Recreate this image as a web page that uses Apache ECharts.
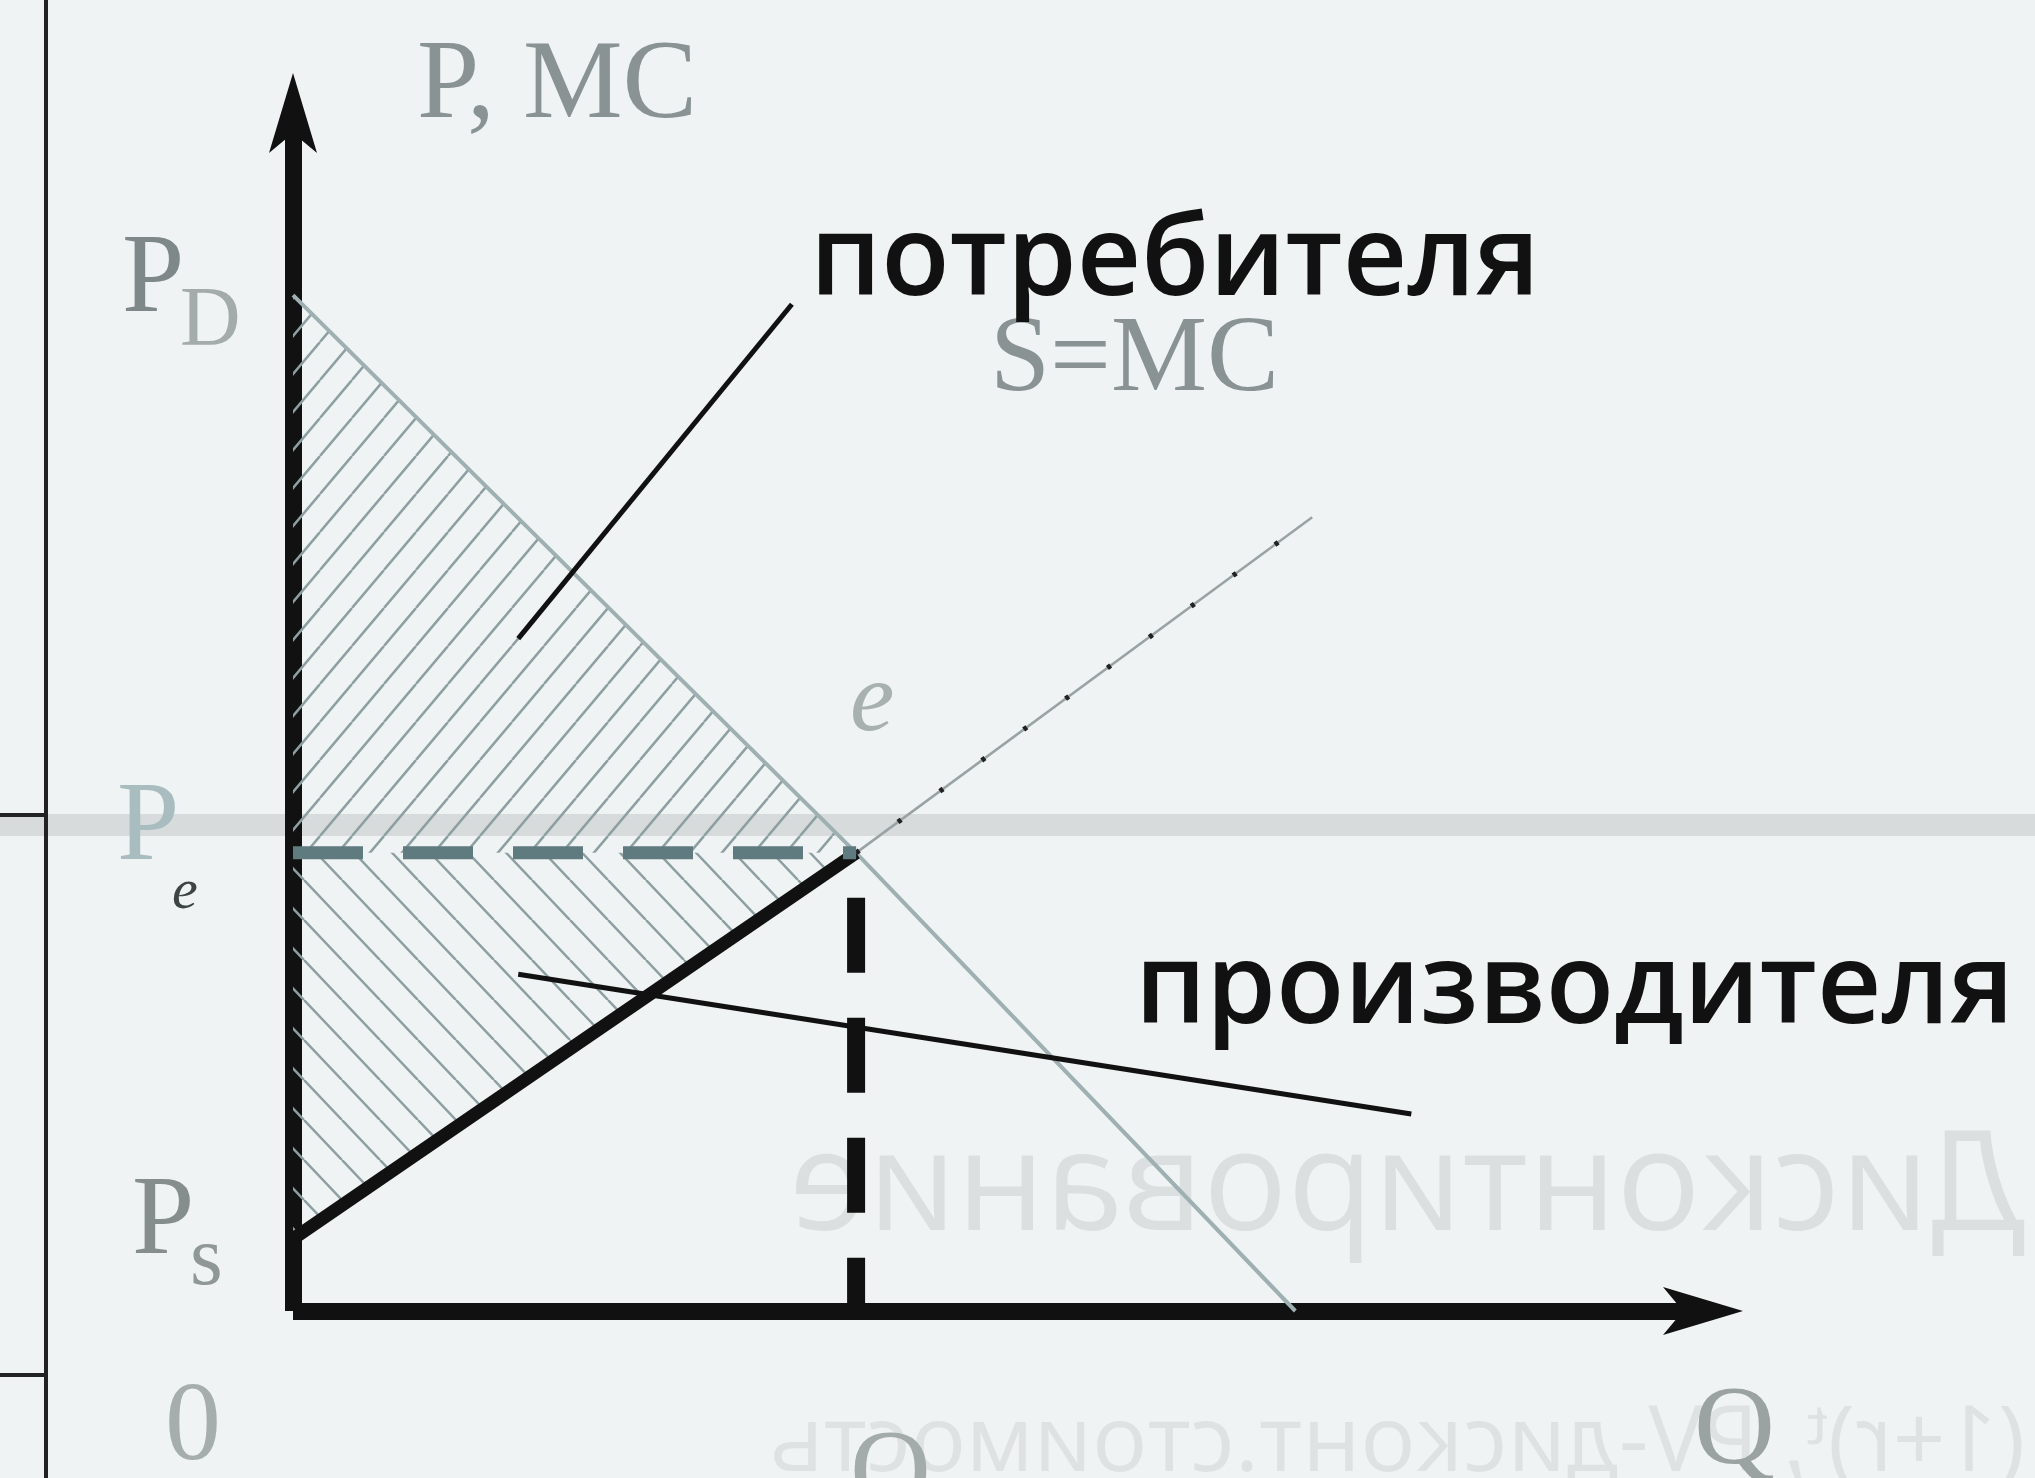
<!DOCTYPE html>
<html>
<head>
<meta charset="utf-8">
<script src="https://cdn.jsdelivr.net/npm/echarts@6/dist/echarts.min.js"></script>
<style>
html, body { margin: 0; padding: 0; background: #f0f3f3; }
#chart { width: 2035px; height: 1478px; }
</style>
</head>
<body>
<div id="chart"></div>
<script>
// values: Q on x, P on y
var qMax = 12.52;
var pMax = 10.46;
var demand = [[0, 8.87], [5.0, 4.0], [8.9, 0]];
var supplySolid = [[0, 0.63], [5.0, 4.0]];
var supplyDotted = [[5.0, 4.0], [9.05, 6.93]];
var priceLine = [[0, 4.0], [5.0, 4.0]];
var qtyLine = [[5.0, 4.0], [5.0, 0]];
var consumerArea = [[0, 8.87], [0, 4.0], [5.0, 4.0]];
var producerArea = [[0, 4.0], [5.0, 4.0], [0, 0.63]];
var consumerPointer = [[2.0, 5.87], [4.43, 8.79]];
var producerPointer = [[2.0, 2.94], [9.93, 1.72]];

// hatching tiles
function hatch(w, h, dir, color, lw) {
    var c = document.createElement('canvas');
    c.width = w;
    c.height = h;
    var g = c.getContext('2d');
    g.strokeStyle = color;
    g.lineWidth = lw;
    g.beginPath();
    for (var k = -1; k <= 1; k++) {
        if (dir > 0) {
            g.moveTo(k * w, h);
            g.lineTo(k * w + w, 0);
        } else {
            g.moveTo(k * w, 0);
            g.lineTo(k * w + w, h);
        }
    }
    g.stroke();
    return c;
}
var consumerHatch = { image: hatch(32, 38, 1, '#8d9fa3', 2.5), repeat: 'repeat' };
var producerHatch = { image: hatch(38, 40, -1, '#8d9fa3', 2.5), repeat: 'repeat' };

function area(points, fill) {
    return {
        type: 'custom',
        data: [0],
        z: 1,
        silent: true,
        renderItem: function (params, api) {
            return {
                type: 'polygon',
                shape: { points: points.map(function (p) { return api.coord(p); }) },
                style: { fill: fill, stroke: null }
            };
        }
    };
}

function seg(data, color, width, type, extra) {
    var s = {
        type: 'line',
        data: data,
        symbol: 'none',
        silent: true,
        z: 3,
        lineStyle: { color: color, width: width, type: type || 'solid', cap: 'butt' }
    };
    for (var k in extra) s[k] = extra[k];
    return s;
}

var serif = '"Liberation Serif", "DejaVu Serif", serif';
var sans = '"Open Sans", "Noto Sans", sans-serif';

function label(text, x, y, size, color, font, extra) {
    var t = {
        type: 'text',
        x: x,
        y: y,
        silent: true,
        z: 20,
        style: {
            text: text,
            fill: color,
            font: (extra && extra.style ? extra.style + ' ' : '') + size + 'px ' + font,
            textVerticalAlign: 'middle'
        }
    };
    if (extra && extra.scaleX) t.scaleX = extra.scaleX;
    if (extra && extra.z) t.z = extra.z;
    return t;
}

var myChart = echarts.init(document.getElementById('chart'));

var axisLine = {
    lineStyle: { color: '#111', width: 17, cap: 'butt' },
    symbol: ['none', 'arrow'],
    symbolSize: [36, 80],
    symbolOffset: [0, 40]
};

var option = {
    backgroundColor: '#f0f3f3',
    animation: false,
    grid: { left: 293, right: 332, top: 113, bottom: 167 },
    xAxis: {
        type: 'value',
        min: 0,
        max: qMax,
        axisLine: axisLine,
        axisTick: { show: false },
        axisLabel: { show: false },
        splitLine: { show: false }
    },
    yAxis: {
        type: 'value',
        min: 0,
        max: pMax,
        axisLine: axisLine,
        axisTick: { show: false },
        axisLabel: { show: false },
        splitLine: { show: false }
    },
    graphic: [
        // scan background details
        { type: 'line', silent: true, z: -5, shape: { x1: 0, y1: 825, x2: 2035, y2: 825 }, style: { stroke: '#d7dbdb', lineWidth: 22 } },
        { type: 'line', silent: true, z: 5, shape: { x1: 46, y1: 0, x2: 46, y2: 1478 }, style: { stroke: '#222', lineWidth: 4 } },
        { type: 'line', silent: true, z: 5, shape: { x1: 0, y1: 815, x2: 46, y2: 815 }, style: { stroke: '#222', lineWidth: 4 } },
        { type: 'line', silent: true, z: 5, shape: { x1: 0, y1: 1375, x2: 46, y2: 1375 }, style: { stroke: '#222', lineWidth: 4 } },
        label('Дисконтирование', 2025, 1190, 140, '#dcdfdf', sans, { scaleX: -1, z: -4 }),
        label('(1+r)ᵗ, PV-дисконт.стоимость', 2025, 1445, 92, '#dfe2e2', sans, { scaleX: -1, z: -4 }),
        // axis and curve labels
        label('P, MC', 417, 88, 112, '#8a9393', serif),
        label('P', 122, 282, 112, '#7f8888', serif),
        label('D', 180, 323, 84, '#a3abab', serif),
        label('P', 117, 830, 112, '#a9bcc0', serif),
        label('e', 172, 893, 58, '#3d4444', serif, { style: 'italic' }),
        label('P', 132, 1224, 112, '#858d8d', serif),
        label('s', 190, 1262, 84, '#8f9797', serif),
        label('0', 165, 1430, 112, '#a6adad', serif),
        label('Q', 850, 1478, 112, '#a3abab', serif),
        label('Q', 1694, 1434, 112, '#9aa2a2', serif),
        label('S=MC', 990, 362, 108, '#8a9393', serif),
        label('e', 850, 704, 100, '#a8b0b0', serif, { style: 'italic' }),
        label('потребителя', 810, 263, 112, '#111', sans, { style: '600' }),
        label('производителя', 1135, 991, 112, '#111', sans, { style: '600' })
    ],
    series: [
        area(consumerArea, consumerHatch),
        area(producerArea, producerHatch),
        seg(demand, '#9fb0b3', 4),
        seg(supplyDotted, '#9aa3a3', 2.5),
        seg(supplyDotted, '#222', 5, [4, 48], { z: 4 }),
        seg(supplySolid, '#111', 13, 'solid', { z: 5 }),
        seg(priceLine, '#5f7b80', 13, [70, 40], { z: 5 }),
        seg(qtyLine, '#111', 18, [75, 45], { z: 5, lineStyle: { color: '#111', width: 18, type: [75, 45], dashOffset: 75, cap: 'butt' } }),
        seg(consumerPointer, '#111', 5, 'solid', { z: 6 }),
        seg(producerPointer, '#111', 5, 'solid', { z: 6 })
    ]
};

myChart.setOption(option);

window.onresize = function () {
    myChart.resize();
};
</script>
</body>
</html>
